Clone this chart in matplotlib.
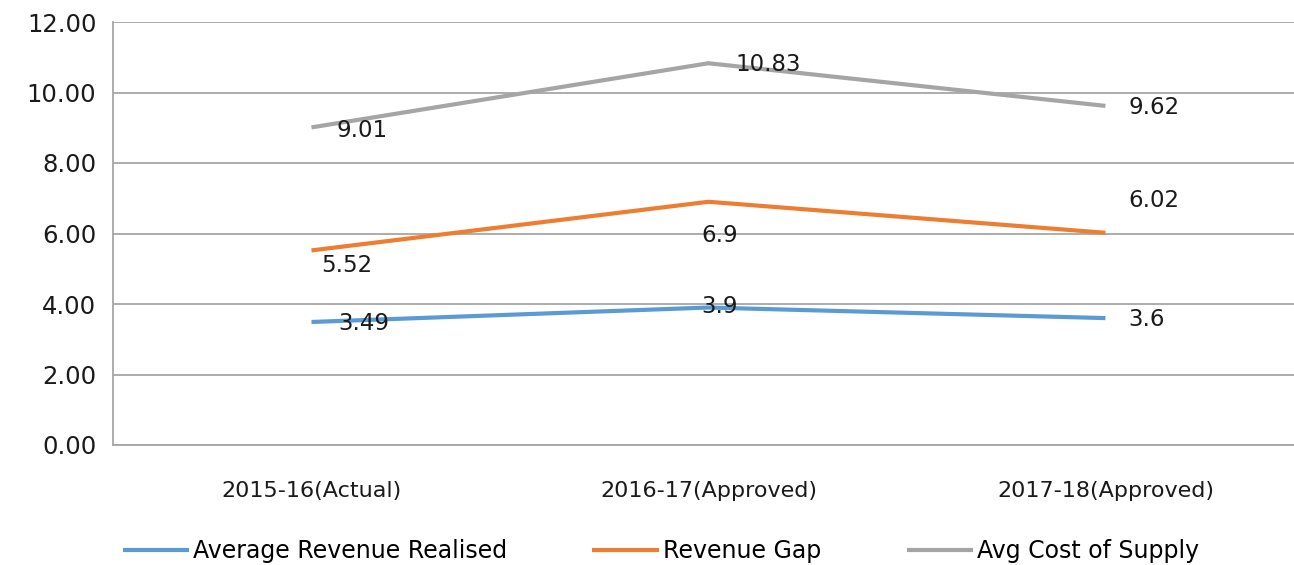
"""Revenue realised vs cost of supply line chart."""

import matplotlib
matplotlib.use("Agg")
import matplotlib.pyplot as plt

years = ["2015-16", "2016-17", "2017-18"]
year_tags = ["(Actual)", "(Approved)", "(Approved)"]
revenue_realised = [3.49, 3.9, 3.6]
revenue_gap = [5.52, 6.9, 6.02]
cost_of_supply = [9.01, 10.83, 9.62]
label_text = {
    "Average Revenue Realised": ["3.49", "3.9", "3.6"],
    "Revenue Gap": ["5.52", "6.9", "6.02"],
    "Avg Cost of Supply": ["9.01", "10.83", "9.62"],
}

plt.rcParams['font.family'] = ['DejaVu Sans']

W, H = 1294, 565
fig = plt.figure(figsize=(W / 100, H / 100), dpi=100)
ax = fig.add_axes([113 / W, 1 - 445 / H, (1294 - 113) / W, (445 - 22) / H])

x = list(range(len(years)))
series = [
    ("Average Revenue Realised", revenue_realised, '#5B9BD5'),
    ("Revenue Gap", revenue_gap, '#ED7D31'),
    ("Avg Cost of Supply", cost_of_supply, '#A5A5A5'),
]
for name, vals, col in series:
    ax.plot(x, vals, color=col, linewidth=3, label=name, solid_capstyle='butt')

# label offsets in pixels (dx, dy) from each point
offsets = {
    "Average Revenue Realised": [(27, -2), (-7, 1), (23, -1)],
    "Revenue Gap": [(10, -15), (-7, -34), (23, 32)],
    "Avg Cost of Supply": [(25, -3), (27, -1), (23, -2)],
}
for name, vals, col in series:
    for i, v in enumerate(vals):
        dx, dy = offsets[name][i]
        ax.annotate(label_text[name][i], (x[i], v), xytext=(dx, dy),
                    textcoords='offset pixels', ha='left', va='center',
                    fontsize=16.5, color='#1a1a1a')

ax.set_xlim(-0.5, 2.475)
ax.set_ylim(0, 12)
ax.set_yticks(range(0, 13, 2))
ax.set_yticklabels([f"{v:.2f}" for v in range(0, 13, 2)], fontsize=17.5, color='#1a1a1a')
ax.set_xticks(x)
ax.set_xticklabels([y + t for y, t in zip(years, year_tags)], fontsize=16, color='#1a1a1a')
ax.tick_params(length=0, pad=12)
ax.tick_params(axis='x', pad=26)
ax.grid(axis='y', color='#A6A6A6', linewidth=1.3)
ax.set_axisbelow(True)
for s in ['top', 'right']:
    ax.spines[s].set_visible(False)
for s in ['left', 'bottom']:
    ax.spines[s].set_color('#A6A6A6')
    ax.spines[s].set_linewidth(1.3)

fig.legend(loc='center', bbox_to_anchor=(661 / W, 1 - 551 / H), ncol=3, frameon=False,
           fontsize=17, handlelength=2.8, handletextpad=0.2, columnspacing=3.6)

fig.savefig('out.png', dpi=100)
